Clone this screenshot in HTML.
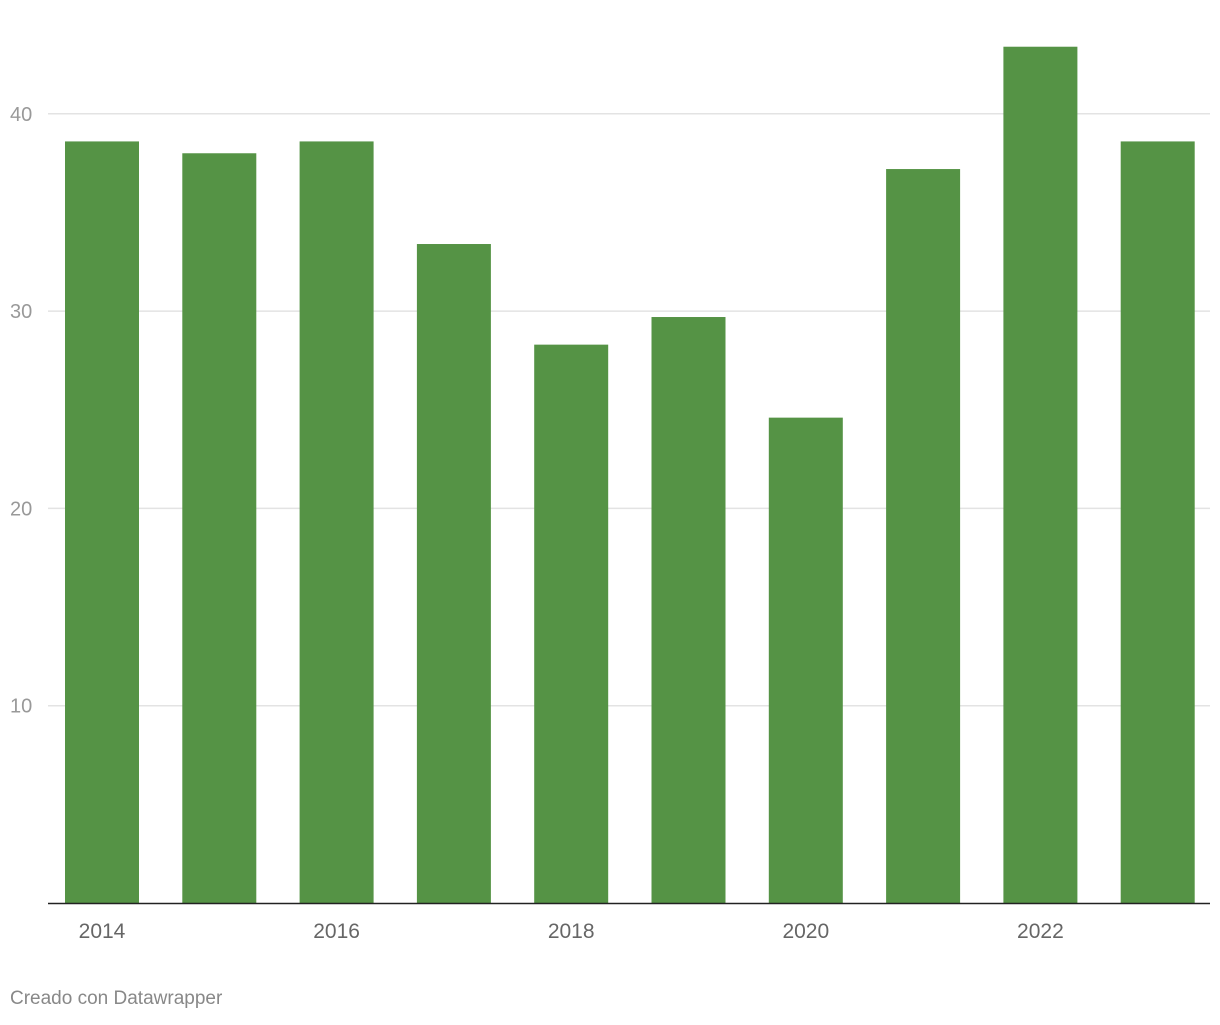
<!DOCTYPE html>
<html><head><meta charset="utf-8"><style>
body{margin:0;background:#fff;font-family:"Liberation Sans",sans-serif;}
svg text{font-family:"Liberation Sans",sans-serif;}
</style></head><body>
<svg width="1220" height="1020" id="chart"></svg>
<script>
const years=[2014,2015,2016,2017,2018,2019,2020,2021,2022,2023];
const values=[38.6,38.0,38.6,33.4,28.3,29.7,24.6,37.2,43.4,38.6];
const yTicks=[10,20,30,40];
const xLabels=[2014,2016,2018,2020,2022];
const ns="http://www.w3.org/2000/svg";
const svg=document.getElementById('chart');
const y0=903, pxPerUnit=19.73;
const y=v=>y0-v*pxPerUnit;
const firstX=65, step=117.3, bw=74;
const x=i=>firstX+i*step;
function mk(t,a){const e=document.createElementNS(ns,t);for(const k in a)e.setAttribute(k,a[k]);svg.appendChild(e);return e;}
yTicks.forEach(t=>{
  const l=mk('line',{x1:48,x2:1210,y1:y(t),y2:y(t),stroke:'#e3e3e3','stroke-width':1.5});
  
  
  const tx=mk('text',{x:10,y:y(t)+7,fill:'#999','font-size':20});
  tx.textContent=t;
  
  
});
values.forEach((v,i)=>{
  const r=mk('rect',{x:x(i),y:y(v),width:bw,height:y0-y(v),fill:'#559345'});
  
  
});
const base=mk('line',{x1:48,x2:1210,y1:y0+0.5,y2:y0+0.5,stroke:'#222','stroke-width':1.5});


xLabels.forEach(yr=>{
  const i=years.indexOf(yr);
  const tx=mk('text',{x:x(i)+bw/2,y:938,fill:'#666','font-size':21,'text-anchor':'middle'});
  tx.textContent=yr;
  
  
});
const f=mk('text',{x:10,y:1004,fill:'#888','font-size':19});
f.textContent='Creado con Datawrapper';


</script>
</body></html>
